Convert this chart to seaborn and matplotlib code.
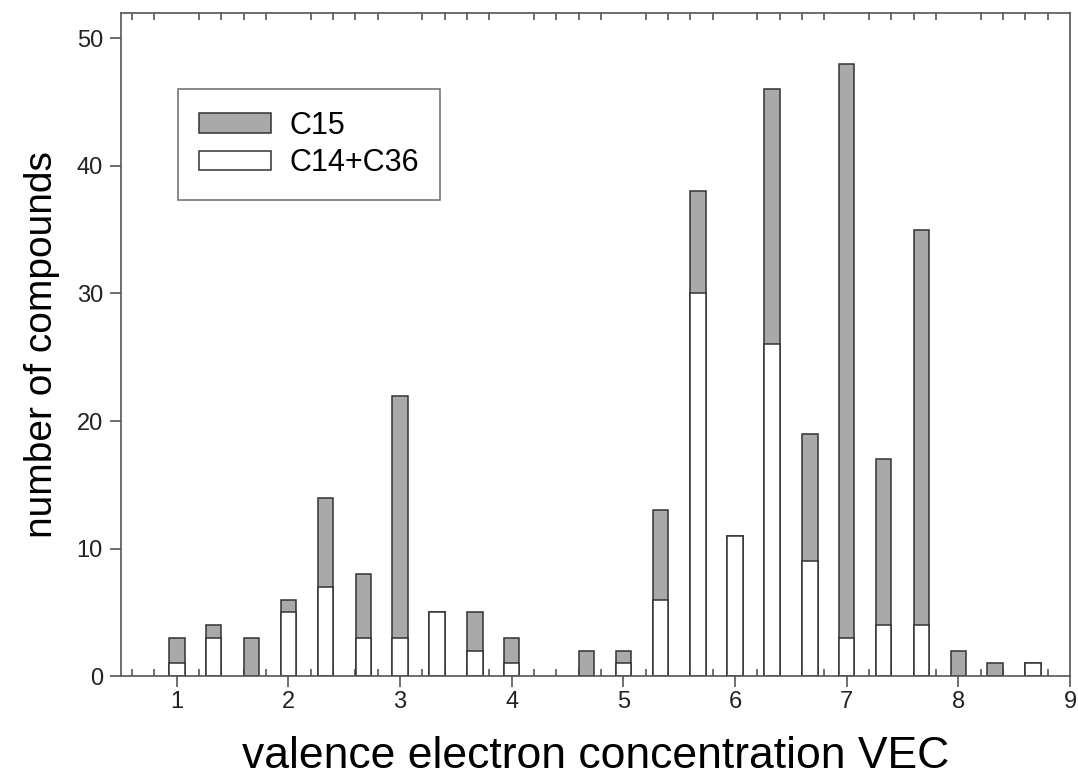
import matplotlib
matplotlib.use("Agg")
import matplotlib.pyplot as plt
from matplotlib.ticker import MultipleLocator
from matplotlib.patches import Patch
import pandas as pd
import seaborn as sns

# VEC positions (4.33 has no compounds, left out)
vec = [1.0, 1.33, 1.67, 2.0, 2.33, 2.67, 3.0, 3.33, 3.67, 4.0,
       4.67, 5.0, 5.33, 5.67, 6.0, 6.33, 6.67, 7.0, 7.33, 7.67,
       8.0, 8.33, 8.67]
# total number of compounds (C15 + C14+C36)
total = [3, 4, 3, 6, 14, 8, 22, 5, 5, 3,
         2, 2, 13, 38, 11, 46, 19, 48, 17, 35,
         2, 1, 1]
# C14+C36 only
c14_c36 = [1, 3, 0, 5, 7, 3, 3, 5, 2, 1,
           0, 1, 6, 30, 11, 26, 9, 3, 4, 4,
           0, 0, 1]

df = pd.DataFrame({"vec": vec, "total": total, "c14c36": c14_c36})

sns.set_style("ticks")
plt.rcParams["font.family"] = ["Liberation Sans", "DejaVu Sans"]
plt.rcParams["text.color"] = "black"
plt.rcParams["axes.labelcolor"] = "black"
plt.rcParams["xtick.labelcolor"] = "#222222"
plt.rcParams["ytick.labelcolor"] = "#222222"

gray = "#a9a9a9"
edge = "#333333"

fig = plt.figure(figsize=(10.78, 7.81), dpi=100)
ax = fig.add_axes([0.1122, 0.1344, 0.8804, 0.849])

# gray = whole stack, white drawn over it for C14+C36
sns.barplot(data=df, x="vec", y="total", native_scale=True, width=0.42,
            color=gray, saturation=1, edgecolor=edge, linewidth=1.1, ax=ax)
white_df = df[df.c14c36 > 0]
sns.barplot(data=white_df, x="vec", y="c14c36", native_scale=True, width=0.42,
            color="white", saturation=1, edgecolor=edge, linewidth=1.1, ax=ax)

ax.set_xlim(0.5, 9.0)
ax.set_ylim(0, 52)
ax.xaxis.set_major_locator(MultipleLocator(1))
ax.xaxis.set_minor_locator(MultipleLocator(0.2))
ax.yaxis.set_major_locator(MultipleLocator(10))
ax.set_xticks(range(1, 10))

for s in ax.spines.values():
    s.set_color("#555555")
    s.set_linewidth(1.2)

ax.tick_params(axis="x", which="major", direction="out", length=8, width=1.2,
               color="#555555", labelsize=17, pad=3, top=False)
ax.tick_params(axis="x", which="minor", direction="in", length=5, width=1.2,
               color="#555555", top=True, bottom=True)
ax.tick_params(axis="y", which="major", direction="out", length=8, width=1.2,
               color="#555555", labelsize=17, pad=5, right=False)

ax.set_xlabel("valence electron concentration VEC", fontsize=32, labelpad=16)
ax.set_ylabel("number of compounds", fontsize=28, labelpad=12)

handles = [Patch(facecolor=gray, edgecolor=edge, linewidth=1.1, label="C15"),
           Patch(facecolor="white", edgecolor=edge, linewidth=1.1, label="C14+C36")]
leg = ax.legend(handles=handles, loc="upper left", bbox_to_anchor=(0.060, 0.885),
                fontsize=22, frameon=True, fancybox=False, handlelength=2.35,
                handleheight=0.62, handletextpad=0.6, borderpad=0.7,
                labelspacing=0.25, borderaxespad=0)
leg.get_frame().set_edgecolor("#444444")
leg.get_frame().set_linewidth(1.1)

fig.savefig("out.png", dpi=100)
